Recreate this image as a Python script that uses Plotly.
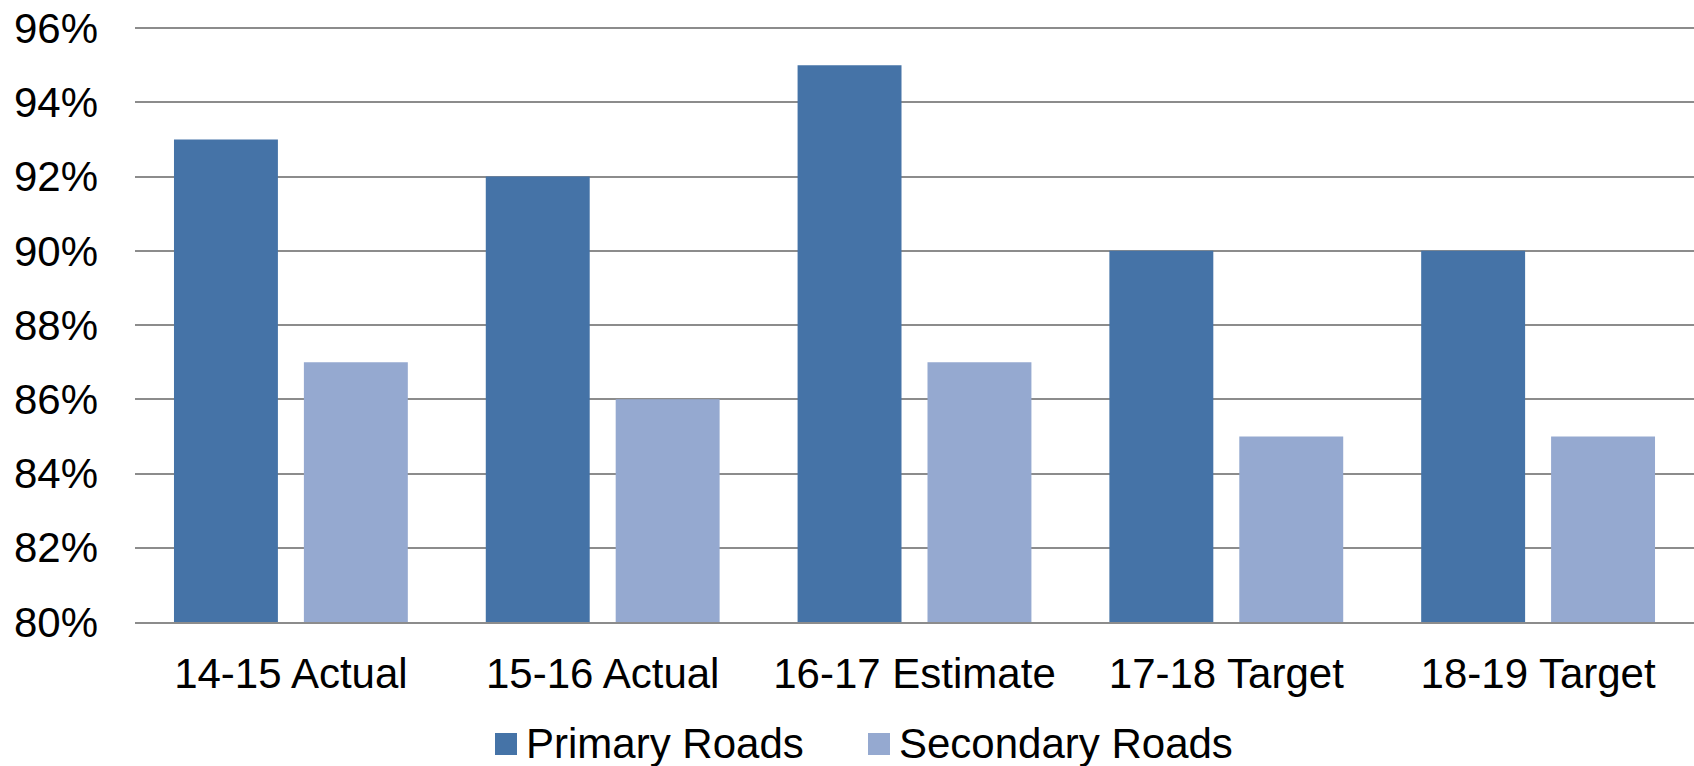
import plotly.graph_objects as go

# Road condition shares by fiscal year
categories = ["14-15 Actual", "15-16 Actual", "16-17 Estimate", "17-18 Target", "18-19 Target"]
primary_roads = [93, 92, 95, 90, 90]
secondary_roads = [87, 86, 87, 85, 85]
series_names = ["Primary Roads", "Secondary Roads"]
y_ticks = [80, 82, 84, 86, 88, 90, 92, 94, 96]
y_tick_labels = [f"{v}%" for v in y_ticks]

PRIMARY_COLOR = "#4573A7"
SECONDARY_COLOR = "#95A9D0"
GRID_COLOR = "#8C8C8C"
FONT = "Liberation Sans, Arial, sans-serif"

W, H = 1694, 766
M_L, M_R, M_T, M_B = 135, 0, 27, 144

fig = go.Figure()
fig.add_trace(go.Bar(x=categories, y=primary_roads, name=series_names[0],
                     marker=dict(color=PRIMARY_COLOR, line=dict(width=0)),
                     showlegend=False))
fig.add_trace(go.Bar(x=categories, y=secondary_roads, name=series_names[1],
                     marker=dict(color=SECONDARY_COLOR, line=dict(width=0)),
                     showlegend=False))

# Legend drawn as shapes + text below the category labels
plot_w = W - M_L - M_R
plot_h = H - M_T - M_B


def px_x(px):
    return (px - M_L) / plot_w


def px_y(py):
    return (H - M_B - py) / plot_h


legend_items = [
    (series_names[0], PRIMARY_COLOR, 495),
    (series_names[1], SECONDARY_COLOR, 868),
]
for name, color, left in legend_items:
    fig.add_shape(type="rect", xref="paper", yref="paper",
                  x0=px_x(left), x1=px_x(left + 22),
                  y0=px_y(755), y1=px_y(733),
                  fillcolor=color, line=dict(width=0))
    fig.add_annotation(text=name, xref="paper", yref="paper",
                       x=px_x(left + 29), y=px_y(743),
                       xanchor="left", yanchor="middle", showarrow=False,
                       font=dict(family=FONT, size=42, color="#000000"))

fig.update_layout(
    width=W, height=H,
    margin=dict(l=M_L, r=M_R, t=M_T, b=M_B),
    paper_bgcolor="white", plot_bgcolor="white",
    barmode="group", bargap=0.1667, bargroupgap=0.2,
    font=dict(family=FONT, size=42, color="#000000"),
    showlegend=False,
)
fig.update_xaxes(
    showline=True, linecolor=GRID_COLOR, linewidth=2,
    showgrid=False, ticks="", ticklabelstandoff=14,
    tickfont=dict(size=42),
)
fig.update_yaxes(
    range=[80, 96.03], tickvals=y_ticks, ticktext=y_tick_labels,
    showgrid=True, gridcolor=GRID_COLOR, gridwidth=1.5,
    zeroline=False, showline=False, ticks="",
    ticklabelstandoff=36, tickfont=dict(size=42),
)

fig.write_html("out.html")
